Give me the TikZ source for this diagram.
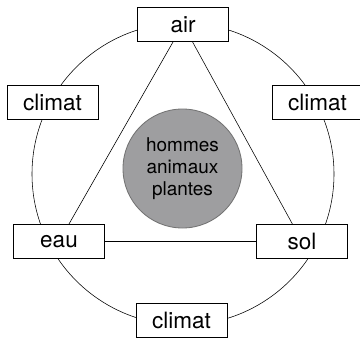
\documentclass[tikz,border=0pt]{standalone}
\usepackage{fontspec}
\setmainfont{TeX Gyre Heros}
\usetikzlibrary{backgrounds}
\definecolor{disque}{RGB}{158,158,160}
\tikzset{
	boite/.style={draw, fill=white, minimum width=2.275cm, minimum height=0.85cm, inner sep=0pt, font=\fontsize{16}{19}\selectfont},
}
\begin{document}
\begin{tikzpicture}[line width=0.6pt]
		\useasboundingbox (0,0) rectangle (9,8.475);
		\coordinate (centre) at (4.575,4.125);
		\node[boite] (air) at (4.575,7.8625) {air};
		\node[boite] (climatG) at (1.3125,5.925) {climat};
		\node[boite] (climatD) at (7.9375,5.925) {climat};
		\node[boite] (eau) at (1.475,2.4375) {eau};
		\node[boite] (sol) at (7.55,2.4375) {sol};
		\node[boite] (climatB) at (4.5375,0.475) {climat};
		\node[circle, draw=black!55, fill=disque, minimum size=2.975cm, inner sep=0pt, align=center, font=\fontsize{13.5}{15.5}\selectfont] (vivant) at (4.5625,4.2625) {hommes\\animaux\\plantes};
		\begin{scope}[on background layer]
			\draw (centre) circle (3.775);
			\draw (air.center) -- (eau.center) -- (sol.center) -- cycle;
		\end{scope}
	\end{tikzpicture}
\end{document}
